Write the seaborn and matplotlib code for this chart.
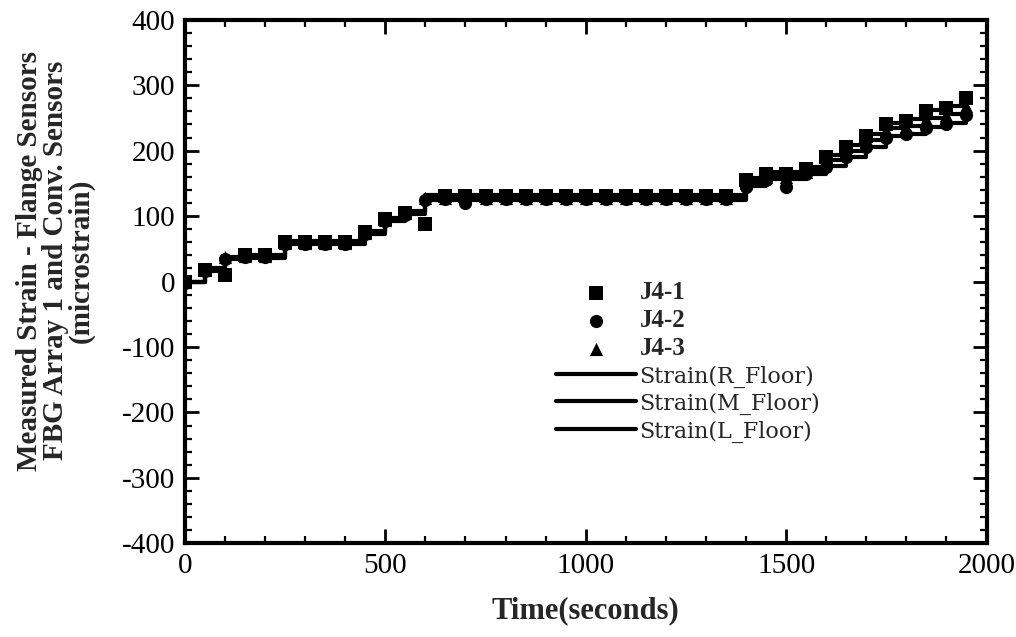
import pandas as pd
import matplotlib.pyplot as plt
import seaborn as sns
from matplotlib.ticker import MultipleLocator

# time samples (seconds)
time_s = [0, 50, 100, 150, 200, 250, 300, 350, 400, 450,
          500, 550, 600, 650, 700, 750, 800, 850, 900, 950,
          1000, 1050, 1100, 1150, 1200, 1250, 1300, 1350, 1400, 1450,
          1500, 1550, 1600, 1650, 1700, 1750, 1800, 1850, 1900, 1950]

# FBG sensors (microstrain)
j4_1 = [0, 18, 10, 40, 40, 60, 60, 60, 60, 75,
        95, 105, 88, 130, 130, 130, 130, 130, 130, 130,
        130, 130, 130, 130, 130, 130, 130, 130, 155, 165,
        165, 172, 190, 205, 222, 240, 245, 260, 265, 280]
j4_2 = [-2, 16, 35, 38, 38, 58, 58, 58, 58, 73,
        92, 102, 125, 126, 120, 126, 126, 126, 126, 126,
        126, 126, 126, 126, 126, 126, 126, 126, 145, 155,
        145, 165, 175, 190, 205, 220, 225, 235, 240, 255]
j4_3 = [0, 17, 37, 39, 39, 59, 59, 59, 59, 74,
        94, 104, 128, 128, 128, 128, 128, 128, 128, 128,
        128, 128, 128, 128, 128, 128, 128, 128, 150, 160,
        160, 168, 182, 198, 214, 232, 236, 248, 254, 268]

# conventional gauges (microstrain)
strain_r = [0, 20, 38, 40, 40, 62, 62, 62, 62, 77,
            97, 108, 132, 132, 132, 132, 132, 132, 132, 132,
            132, 132, 132, 132, 132, 132, 132, 132, 158, 168,
            168, 175, 193, 208, 225, 243, 248, 262, 268, 282]
strain_m = [0, 18, 36, 38, 38, 60, 60, 60, 60, 75,
            95, 106, 129, 129, 129, 129, 129, 129, 129, 129,
            129, 129, 129, 129, 129, 129, 129, 129, 152, 162,
            162, 170, 185, 200, 216, 234, 238, 250, 256, 270]
strain_l = [0, 16, 34, 36, 36, 57, 57, 57, 57, 72,
            92, 103, 125, 125, 125, 125, 125, 125, 125, 125,
            125, 125, 125, 125, 125, 125, 125, 125, 146, 156,
            156, 165, 176, 190, 206, 222, 226, 236, 242, 256]

df = pd.DataFrame({'time': time_s, 'J4-1': j4_1, 'J4-2': j4_2, 'J4-3': j4_3,
                   'Strain(R_Floor)': strain_r, 'Strain(M_Floor)': strain_m,
                   'Strain(L_Floor)': strain_l})

sns.set_theme(style="ticks")
plt.rcParams['font.family'] = ['Liberation Serif', 'DejaVu Serif']
plt.rcParams['axes.unicode_minus'] = False

fig = plt.figure(figsize=(10.16, 6.37), dpi=100)
ax = fig.add_axes([0.182, 0.147, 0.789, 0.822])

# gauge lines
for col in ['Strain(R_Floor)', 'Strain(M_Floor)', 'Strain(L_Floor)']:
    sns.lineplot(data=df, x='time', y=col, ax=ax, color='black', linewidth=3,
                 drawstyle='steps-post', label=col)

# FBG points
for col, mk in [('J4-1', 's'), ('J4-2', 'o'), ('J4-3', '^')]:
    sns.scatterplot(data=df, x='time', y=col, ax=ax, marker=mk, s=90,
                    color='black', edgecolor='black', linewidth=0, label=col,
                    zorder=3)

ax.set_xlim(0, 2000)
ax.set_ylim(-400, 400)
ax.xaxis.set_major_locator(MultipleLocator(500))
ax.xaxis.set_minor_locator(MultipleLocator(100))
ax.yaxis.set_major_locator(MultipleLocator(100))
ax.yaxis.set_minor_locator(MultipleLocator(20))
ax.tick_params(which='both', direction='in', top=True, right=True,
               labelsize=21, color='black', labelcolor='black', pad=7)
ax.tick_params(which='major', length=10, width=2)
ax.tick_params(which='minor', length=5, width=1.6)
for sp in ax.spines.values():
    sp.set_linewidth(3)
    sp.set_color('black')

ax.set_xlabel('Time(seconds)', fontsize=22, fontweight='bold', labelpad=12)
ax.set_ylabel('Measured Strain - Flange Sensors\nFBG Array 1 and Conv. Sensors\n(microstrain)',
              fontsize=21, fontweight='bold', linespacing=0.92)
ax.yaxis.set_label_coords(-0.113, 0.54)

handles, labels = ax.get_legend_handles_labels()
order = ['J4-1', 'J4-2', 'J4-3', 'Strain(R_Floor)', 'Strain(M_Floor)', 'Strain(L_Floor)']
hmap = dict(zip(labels, handles))
leg = ax.legend([hmap[k] for k in order], order, loc='upper left',
                bbox_to_anchor=(0.45, 0.52), frameon=False, fontsize=18,
                handlelength=3.2, handletextpad=0.15, labelspacing=0.2,
                borderaxespad=0)
for txt in leg.get_texts():
    if txt.get_text().startswith('J4'):
        txt.set_fontweight('bold')
    else:
        txt.set_family(['DejaVu Serif'])
        txt.set_fontsize(16)

fig.savefig('out.png', dpi=100)
